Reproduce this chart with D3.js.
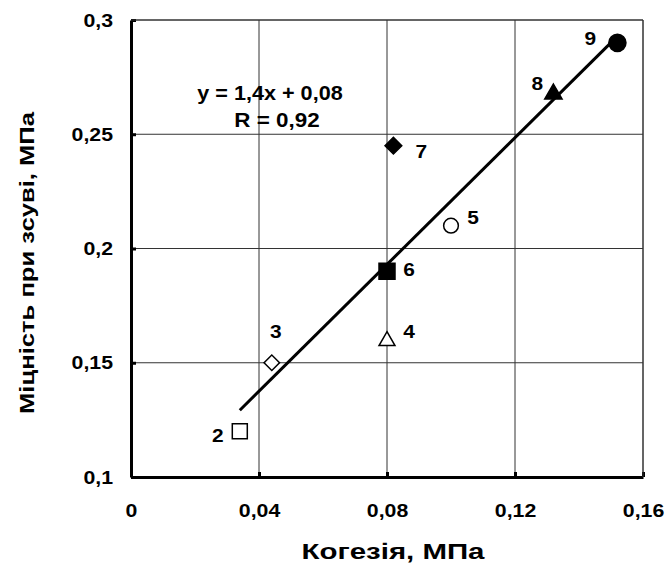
<!DOCTYPE html>
<html>
<head>
<meta charset="utf-8">
<script src="https://cdn.jsdelivr.net/npm/d3@7"></script>
<style>
  body { margin: 0; background: #fff; }
  text { font-family: "Liberation Sans", Arial, sans-serif; font-weight: bold; fill: #000; }
</style>
</head>
<body>
<div id="viz"></div>
<script>
const width = 667;
const height = 567;
const margin = {top: 20, right: 24, bottom: 90, left: 131};

// Data
const labels = ['2', '3', '4', '5', '6', '7', '8', '9'];
const cohesion = [0.034, 0.044, 0.08, 0.1, 0.08, 0.082, 0.132, 0.152];
const shear = [0.12, 0.15, 0.16, 0.21, 0.19, 0.245, 0.268, 0.29];
const xTicks = [0, 0.04, 0.08, 0.12, 0.16];
const yTicks = [0.1, 0.15, 0.2, 0.25, 0.3];
const equationText = 'y = 1,4x + 0,08';
const rText = 'R = 0,92';

// marker look per point (shape, filled, rotation) and label offset in px
const markers = [
  {shape: d3.symbolSquare, fill: false, size: 225, rot: 0, dx: -22, dy: 4},
  {shape: d3.symbolSquare, fill: false, size: 120, rot: 45, dx: 4, dy: -32},
  {shape: d3.symbolTriangle, fill: false, size: 110, rot: 0, dx: 22, dy: -9},
  {shape: d3.symbolCircle, fill: false, size: 170, rot: 0, dx: 22, dy: -8},
  {shape: d3.symbolSquare, fill: true, size: 256, rot: 0, dx: 22, dy: -2},
  {shape: d3.symbolSquare, fill: true, size: 140, rot: 45, dx: 28, dy: 5},
  {shape: d3.symbolTriangle, fill: true, size: 130, rot: 0, dx: -16, dy: -10},
  {shape: d3.symbolCircle, fill: true, size: 230, rot: 0, dx: -27, dy: -5}
];

// widen text the way the original renderer did
const stretch = function (sel, k) {
  sel.each(function () {
    const w = this.getComputedTextLength();
    d3.select(this)
      .attr('textLength', w * k)
      .attr('lengthAdjust', 'spacingAndGlyphs');
  });
};

const svg = d3.select('#viz')
  .append('svg')
    .attr('width', width)
    .attr('height', height);

const xScale = d3.scaleLinear()
  .domain([0, 0.16])
  .range([margin.left, width - margin.right]);
const yScale = d3.scaleLinear()
  .domain([0.1, 0.3])
  .range([height - margin.bottom, margin.top]);

const fmt = d => String(+d.toFixed(2)).replace('.', ',');

// grid
svg.append('g')
  .selectAll('line')
  .data(xTicks.slice(1))
  .join('line')
    .attr('x1', d => xScale(d)).attr('x2', d => xScale(d))
    .attr('y1', yScale(0.1)).attr('y2', yScale(0.3))
    .attr('stroke', '#333').attr('stroke-width', 1);
svg.append('g')
  .selectAll('line')
  .data(yTicks.slice(1))
  .join('line')
    .attr('x1', xScale(0)).attr('x2', xScale(0.16))
    .attr('y1', d => yScale(d)).attr('y2', d => yScale(d))
    .attr('stroke', '#333').attr('stroke-width', 1);

// axes
const xAxis = d3.axisBottom(xScale)
  .tickValues(xTicks)
  .tickFormat(fmt)
  .tickSizeInner(-5)
  .tickSizeOuter(0)
  .tickPadding(25);
const xAxisGroup = svg.append('g')
  .attr('transform', `translate(0, ${yScale(0.1)})`)
  .call(xAxis);
xAxisGroup.select('.domain').attr('stroke', '#000').attr('stroke-width', 3);
xAxisGroup.selectAll('.tick line').attr('stroke', '#000').attr('stroke-width', 3);
xAxisGroup.selectAll('.tick text')
  .attr('dy', null)
  .attr('y', 40)
  .style('font-size', '19px')
  .style('font-family', '"Liberation Sans", Arial, sans-serif')
  .style('font-weight', 'bold')
  .call(stretch, 1.12);

const yAxis = d3.axisLeft(yScale)
  .tickValues(yTicks)
  .tickFormat(fmt)
  .tickSizeInner(-5)
  .tickSizeOuter(0)
  .tickPadding(18);
const yAxisGroup = svg.append('g')
  .attr('transform', `translate(${xScale(0)}, 0)`)
  .call(yAxis);
yAxisGroup.select('.domain').attr('stroke', '#000').attr('stroke-width', 3);
yAxisGroup.selectAll('.tick line').attr('stroke', '#000').attr('stroke-width', 3);
yAxisGroup.selectAll('.tick text')
  .style('font-size', '19px')
  .style('font-family', '"Liberation Sans", Arial, sans-serif')
  .style('font-weight', 'bold')
  .call(stretch, 1.12);

// axis titles
svg.append('text')
  .attr('x', 393)
  .attr('y', 559)
  .attr('text-anchor', 'middle')
  .style('font-size', '22px')
  .text('Когезія, МПа')
  .attr('textLength', 183)
  .attr('lengthAdjust', 'spacingAndGlyphs');
svg.append('text')
  .attr('transform', 'translate(34, 263) rotate(-90)')
  .attr('text-anchor', 'middle')
  .style('font-size', '20px')
  .text('Міцність при зсуві, МПа')
  .attr('textLength', 302)
  .attr('lengthAdjust', 'spacingAndGlyphs');

// linear fit from the points
const mx = d3.mean(cohesion);
const my = d3.mean(shear);
const sxy = d3.sum(cohesion, (x, i) => (x - mx) * (shear[i] - my));
const sxx = d3.sum(cohesion, x => (x - mx) * (x - mx));
const slope = sxy / sxx;
const intercept = my - slope * mx;
const x0 = d3.min(cohesion);
const x1 = 0.150;
svg.append('line')
  .attr('x1', xScale(x0)).attr('y1', yScale(slope * x0 + intercept))
  .attr('x2', xScale(x1)).attr('y2', yScale(slope * x1 + intercept))
  .attr('stroke', '#000')
  .attr('stroke-width', 3);

// equation
svg.append('text')
  .attr('x', 270).attr('y', 100)
  .attr('text-anchor', 'middle')
  .style('font-size', '20px')
  .text(equationText)
  .call(stretch, 1.08);
svg.append('text')
  .attr('x', 277).attr('y', 127)
  .attr('text-anchor', 'middle')
  .style('font-size', '20px')
  .text(rText)
  .call(stretch, 1.12);

// points
const pts = svg.append('g')
  .selectAll('g')
  .data(labels)
  .join('g')
    .attr('transform', (d, i) => `translate(${xScale(cohesion[i])}, ${yScale(shear[i])})`);
pts.append('path')
  .attr('d', (d, i) => d3.symbol().type(markers[i].shape).size(markers[i].size)())
  .attr('transform', (d, i) => markers[i].shape === d3.symbolTriangle ? 'translate(0, 1)' : `rotate(${markers[i].rot})`)
  .attr('fill', (d, i) => markers[i].fill ? '#000' : '#fff')
  .attr('stroke', '#000')
  .attr('stroke-width', 1.5);
pts.append('text')
  .attr('x', (d, i) => markers[i].dx)
  .attr('y', (d, i) => markers[i].dy)
  .attr('dy', '0.36em')
  .attr('text-anchor', 'middle')
  .style('font-size', '19px')
  .text(d => d)
  .call(stretch, 1.1);

// plot frame top/right
svg.append('line')
  .attr('x1', xScale(0)).attr('x2', xScale(0.16))
  .attr('y1', yScale(0.3)).attr('y2', yScale(0.3))
  .attr('stroke', '#333').attr('stroke-width', 1);
svg.append('line')
  .attr('x1', xScale(0.16)).attr('x2', xScale(0.16))
  .attr('y1', yScale(0.3)).attr('y2', yScale(0.1))
  .attr('stroke', '#333').attr('stroke-width', 1);
</script>
</body>
</html>
